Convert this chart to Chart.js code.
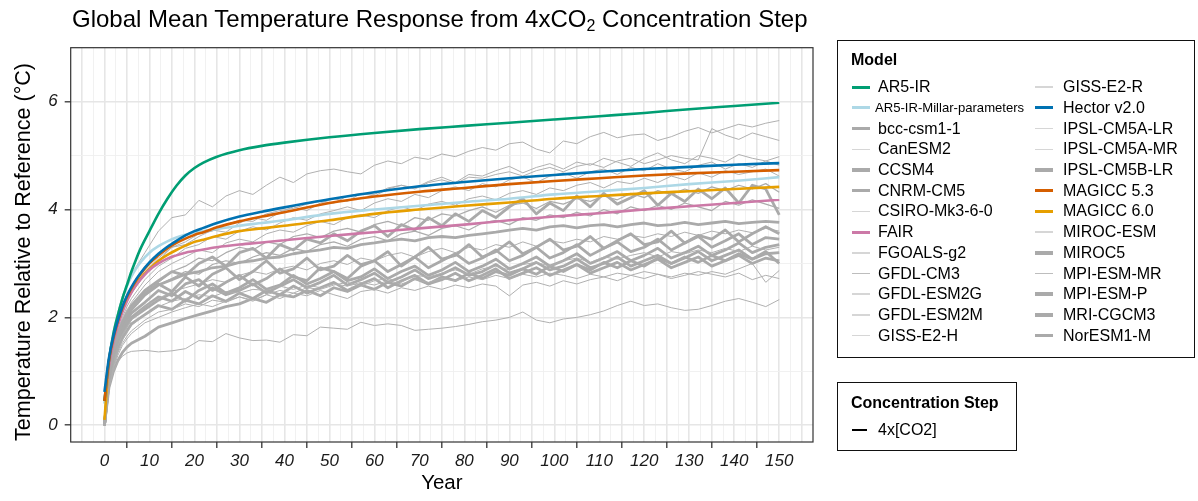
<!DOCTYPE html>
<html><head><meta charset="utf-8">
<script src="https://cdn.jsdelivr.net/npm/chart.js@4.4.1/dist/chart.umd.min.js"></script>
<style>
html,body{margin:0;padding:0;background:#fff;}
#wrap{position:relative;width:1198px;height:501px;font-family:"Liberation Sans",Arial,Helvetica,sans-serif;overflow:hidden;}
#c{position:absolute;left:0;top:0;}
.t{position:absolute;white-space:nowrap;color:#000;}
.box{position:absolute;border:1px solid #111;box-sizing:border-box;}
.key{position:absolute;}
.lt{position:absolute;white-space:nowrap;font-size:16px;line-height:20px;color:#000;}
</style></head><body>
<div id="wrap">
<canvas id="c" width="1198" height="501"></canvas>
<div class="t" style="left:72px;top:5px;font-size:24px;line-height:28px;">Global Mean Temperature Response from 4xCO<sub style="font-size:16px;vertical-align:-4px;line-height:0;">2</sub> Concentration Step</div>
<div class="t" style="left:-177.3px;top:240px;width:400px;height:24px;line-height:24px;font-size:21.5px;text-align:center;transform:rotate(-90deg);">Temperature Relative to Reference (°C)</div>
<div id="legend"></div>
</div>
<script>
// ---------- tick labels ----------
const X_TICK_LABELS = ['0','10','20','30','40','50','60','70','80','90','100','110','120','130','140','150'];
const Y_TICK_LABELS = ['0','2','4','6'];

// ---------- years ----------
const YEARS_SCM = [0,1,2,3,4,5,6,7,8,10,12,14,16,18,20,22,25,30,35,40,50,60,70,80,90,100,110,120,130,140,150];
const YEARS_CMIP = [0,1,2,3,4,5,6,
  9,12,15,18,21,24,27,30,
  33,36,39,42,45,48,51,54,
  57,60,63,66,69,72,75,78,
  81,84,87,90,93,96,99,102,
  105,108,111,114,117,120,123,126,
  129,132,135,138,141,144,147,150];

// ---------- simple climate models ----------
const AR5_IR        = [0.45,1.2,1.7,2.05,2.35,2.6,2.85,3.07,3.27,3.6,3.92,4.2,4.44,4.63,4.77,4.87,4.98,5.1,5.18,5.24,5.34,5.42,5.49,5.55,5.61,5.67,5.73,5.79,5.86,5.92,5.98];
const AR5_IR_MILLAR = [0.4,1.2,1.7,2.05,2.35,2.58,2.76,2.9,3.02,3.2,3.32,3.41,3.48,3.53,3.57,3.6,3.64,3.7,3.75,3.8,3.92,4.0,4.07,4.14,4.2,4.28,4.34,4.4,4.47,4.53,4.6];
const HECTOR        = [0.62,1.25,1.65,1.95,2.2,2.4,2.56,2.7,2.82,3.02,3.18,3.31,3.42,3.52,3.6,3.66,3.75,3.87,3.96,4.04,4.19,4.32,4.43,4.51,4.58,4.64,4.7,4.75,4.79,4.83,4.86];
const MAGICC53      = [0.45,1.2,1.62,1.93,2.18,2.38,2.54,2.68,2.8,3.0,3.15,3.28,3.38,3.46,3.53,3.58,3.67,3.78,3.87,3.95,4.12,4.24,4.33,4.4,4.47,4.53,4.58,4.63,4.67,4.7,4.73];
const MAGICC60      = [0.1,1.15,1.6,1.92,2.15,2.33,2.48,2.61,2.72,2.9,3.05,3.16,3.25,3.33,3.4,3.44,3.51,3.6,3.65,3.7,3.8,3.92,4.0,4.07,4.13,4.2,4.25,4.3,4.34,4.38,4.42];
const FAIR          = [0.45,1.1,1.55,1.85,2.1,2.3,2.46,2.59,2.7,2.88,3.0,3.09,3.15,3.2,3.23,3.26,3.3,3.35,3.39,3.43,3.51,3.58,3.65,3.72,3.8,3.87,3.93,4.0,4.06,4.12,4.18];

// ---------- CMIP5 models ----------
const MIROC_ESM = [0,1.15,1.7,2.1,2.4,2.6,2.8,
  3.2,3.6,3.85,3.9,4.17,4.05,4.25,4.35,
  4.28,4.45,4.6,4.5,4.66,4.72,4.75,4.7,
  4.66,4.82,4.9,4.85,4.97,4.93,5.03,4.98,
  5.08,5.15,5.1,5.22,5.25,5.12,5.05,5.27,
  5.22,5.35,5.43,5.33,5.38,5.4,5.28,5.35,
  5.45,5.52,5.42,5.5,5.58,5.53,5.6,5.65];
const IPSL_CM5A_LR = [0,1.05,1.55,1.9,2.15,2.35,2.5,
  2.85,3.1,3.3,3.4,3.55,3.6,3.72,3.8,
  3.78,3.92,3.98,4.02,4.1,4.15,4.12,4.25,
  4.3,4.28,4.4,4.45,4.38,4.5,4.55,4.48,
  4.6,4.58,4.65,4.7,4.62,4.72,4.78,4.7,
  4.8,4.85,4.78,4.9,4.95,4.85,4.92,5.0,
  4.95,4.92,5.5,5.38,5.3,5.42,5.35,5.28];
const CANESM2 = [0,1.0,1.5,1.85,2.1,2.3,2.45,
  2.8,3.05,3.3,3.35,3.5,3.62,3.58,3.75,
  3.85,3.8,3.95,4.05,3.98,4.12,4.2,4.15,
  4.3,4.25,4.38,4.45,4.4,4.52,4.6,4.5,
  4.65,4.62,4.72,4.8,4.68,4.78,4.85,4.75,
  4.88,4.82,4.95,4.88,4.8,4.95,5.05,4.92,
  4.85,5.0,4.95,4.88,5.02,4.95,4.9,4.98];
const CSIRO_MK3 = [0,0.95,1.45,1.75,2.0,2.2,2.35,
  2.7,2.95,3.1,3.28,3.35,3.5,3.45,3.6,
  3.68,3.62,3.75,3.85,3.8,3.92,3.98,4.05,
  3.98,4.12,4.2,4.15,4.28,4.22,4.35,4.42,
  4.35,4.48,4.42,4.55,4.6,4.5,4.62,4.68,
  4.58,4.7,4.75,4.65,4.78,4.72,4.85,4.75,
  4.7,4.82,4.88,4.75,4.85,4.78,4.9,4.82];
const IPSL_CM5A_MR = [0,0.95,1.4,1.7,1.95,2.12,2.28,
  2.6,2.85,3.0,3.12,3.25,3.2,3.38,3.45,
  3.4,3.55,3.62,3.58,3.7,3.78,3.72,3.85,
  3.9,3.85,3.98,4.05,3.98,4.1,4.15,4.08,
  4.2,4.25,4.18,4.3,4.35,4.28,4.4,4.35,
  4.45,4.5,4.4,4.52,4.48,4.58,4.5,4.62,
  4.55,4.68,4.6,4.72,4.65,4.7,4.75,4.62];
const GFDL_CM3 = [0,0.85,1.3,1.6,1.85,2.0,2.15,
  2.45,2.65,2.85,2.95,3.1,3.05,3.2,3.3,
  3.25,3.4,3.35,3.5,3.55,3.48,3.6,3.65,
  3.58,3.72,3.78,3.7,3.85,3.8,3.92,3.88,
  3.98,4.05,3.95,4.08,4.12,4.02,4.15,4.1,
  4.2,4.15,4.25,4.18,4.3,4.22,4.35,4.28,
  4.38,4.3,4.42,4.35,4.45,4.38,4.48,4.32];
const MPI_ESM_MR = [0,0.9,1.35,1.65,1.85,2.0,2.12,
  2.4,2.6,2.72,2.85,2.8,2.98,3.05,3.0,
  3.12,3.2,3.15,3.28,3.22,3.35,3.4,3.32,
  3.45,3.5,3.42,3.55,3.6,3.52,3.65,3.7,
  3.62,3.75,3.8,3.72,3.85,3.8,3.9,3.85,
  3.95,3.88,4.0,3.92,4.05,3.98,4.08,4.0,
  4.12,4.05,3.98,4.15,4.08,4.18,4.1,4.02];
const FGOALS_G2 = [0,0.8,1.2,1.48,1.68,1.82,1.95,
  2.2,2.35,2.48,2.55,2.62,2.7,2.65,2.78,
  2.85,2.8,2.9,2.95,2.88,3.0,3.05,2.98,
  3.1,3.05,3.15,3.2,3.12,3.22,3.28,3.2,
  3.3,3.25,3.35,3.3,3.4,3.32,3.42,3.38,
  3.45,3.4,3.5,3.45,3.52,3.48,3.55,3.5,
  3.58,3.52,3.6,3.55,3.62,3.57,3.65,3.6];
const GFDL_ESM2M = [0,0.75,1.1,1.35,1.52,1.65,1.75,
  1.95,2.1,2.15,2.25,2.2,2.32,2.28,2.38,
  2.3,2.42,2.35,2.45,2.4,2.5,2.42,2.35,
  2.48,2.52,2.45,2.55,2.5,2.58,2.52,2.6,
  2.55,2.62,2.58,2.4,2.6,2.65,2.58,2.68,
  2.62,2.7,2.75,2.68,2.78,2.72,2.8,2.75,
  2.82,2.78,2.85,2.8,2.9,3.0,2.65,2.87];
const GFDL_ESM2G = [0,0.8,1.15,1.4,1.58,1.72,1.85,
  2.05,2.2,2.3,2.35,2.42,2.38,2.48,2.45,
  2.52,2.5,2.58,2.52,2.6,2.55,2.62,2.58,
  2.65,2.6,2.68,2.62,2.7,2.65,2.72,2.68,
  2.75,2.7,2.78,2.72,2.8,2.75,2.82,2.78,
  2.72,2.8,2.75,2.82,2.78,2.85,2.8,2.72,
  2.78,2.85,2.8,2.75,2.82,2.7,2.78,2.72];
const GISS_E2_R = [0,0.7,1.0,1.18,1.28,1.34,1.37,
  1.39,1.36,1.38,1.42,1.57,1.55,1.7,1.62,
  1.57,1.58,1.54,1.68,1.66,1.82,1.8,1.78,
  1.91,1.85,1.88,1.85,1.76,1.78,1.8,1.83,
  1.87,1.92,1.95,2.0,2.1,1.95,1.9,1.97,
  2.0,2.05,2.12,2.22,2.3,2.22,2.25,2.18,
  2.13,2.15,2.22,2.3,2.35,2.28,2.2,2.33];
const GISS_E2_H = [0,0.7,1.05,1.3,1.48,1.6,1.7,
  1.9,2.0,2.1,2.18,2.25,2.2,2.3,2.38,
  2.32,2.42,2.5,2.45,2.55,2.52,2.6,2.65,
  2.58,2.68,2.72,2.65,2.78,2.75,2.82,2.88,
  2.8,2.9,2.95,2.88,2.98,3.02,2.95,3.05,
  3.1,3.02,3.12,3.08,3.15,3.2,3.12,3.22,
  3.18,3.25,3.2,3.28,3.22,3.32,3.25,3.3];
const MPI_ESM_P = [0,0.95,1.4,1.7,1.92,2.1,2.22,
  2.5,2.68,2.85,2.78,3.0,3.12,2.95,3.2,
  3.28,3.1,3.35,3.25,3.45,3.38,3.55,3.42,
  3.6,3.7,3.5,3.72,3.62,3.85,3.7,3.92,
  3.78,3.98,3.85,4.05,4.2,3.92,4.12,3.98,
  4.25,4.05,4.3,4.1,4.22,4.35,4.08,4.3,
  4.15,4.38,4.2,4.4,4.12,4.45,4.38,3.9];
const CNRM_CM5 = [0,0.9,1.35,1.65,1.85,2.02,2.15,
  2.42,2.6,2.7,2.8,2.85,2.92,2.95,3.02,
  3.05,3.1,3.12,3.18,3.22,3.25,3.3,3.28,
  3.35,3.38,3.42,3.45,3.42,3.48,3.5,3.48,
  3.52,3.55,3.58,3.62,3.65,3.62,3.68,3.7,
  3.66,3.7,3.72,3.68,3.72,3.75,3.7,3.72,
  3.76,3.72,3.75,3.78,3.74,3.76,3.78,3.76];
const BCC_CSM1_1 = [0,0.95,1.38,1.68,1.9,2.05,2.18,
  2.45,2.62,2.48,2.75,2.58,2.8,2.92,2.7,
  2.85,3.05,2.82,2.9,3.1,2.88,2.95,3.15,
  2.98,3.05,3.22,2.95,3.12,3.3,3.08,3.15,
  3.35,3.12,3.22,3.4,3.18,3.3,3.45,3.25,
  3.32,3.5,3.28,3.42,3.55,3.35,3.4,3.6,
  3.38,3.52,3.45,3.62,3.4,3.55,3.68,3.55];
const CCSM4 = [0,0.85,1.28,1.58,1.8,1.95,2.08,
  2.28,2.5,2.4,2.62,2.7,2.5,2.65,2.78,
  2.6,2.72,2.9,2.75,2.68,2.92,2.85,2.72,
  2.95,3.05,2.85,2.98,3.12,2.92,3.05,3.18,
  3.0,3.1,3.25,3.05,3.15,3.3,3.1,3.2,
  3.35,3.15,3.28,3.4,3.22,3.3,3.45,3.25,
  3.38,3.5,3.3,3.42,3.55,3.35,3.48,3.45];
const NORESM1_M = [0,0.8,1.2,1.5,1.7,1.85,1.98,
  2.15,2.32,2.45,2.3,2.5,2.62,2.45,2.55,
  2.7,2.52,2.6,2.78,2.62,2.72,2.85,2.68,
  2.75,2.9,2.72,2.85,2.95,2.78,2.88,3.02,
  2.85,2.95,3.08,2.9,3.0,3.12,2.95,3.05,
  3.18,3.0,3.1,3.22,3.05,3.15,3.28,3.1,
  3.2,3.32,3.15,3.25,3.38,3.2,3.3,3.35];
const MIROC5 = [0,0.85,1.25,1.52,1.72,1.88,2.0,
  2.2,2.38,2.3,2.48,2.35,2.55,2.42,2.5,
  2.62,2.45,2.58,2.7,2.55,2.65,2.78,2.6,
  2.7,2.82,2.65,2.75,2.88,2.72,2.8,2.92,
  2.78,2.85,2.98,2.82,2.9,3.02,2.88,2.95,
  3.08,2.92,3.0,3.12,2.95,3.05,3.15,3.0,
  3.1,3.22,3.05,3.15,3.25,3.08,3.18,3.2];
const MRI_CGCM3 = [0,0.78,1.15,1.42,1.62,1.75,1.88,
  2.05,2.22,2.15,2.32,2.25,2.4,2.3,2.45,
  2.35,2.5,2.42,2.58,2.45,2.55,2.65,2.5,
  2.62,2.72,2.55,2.68,2.78,2.62,2.7,2.82,
  2.68,2.78,2.9,2.72,2.82,2.92,2.78,2.88,
  2.98,2.82,2.92,3.02,2.88,2.98,3.08,2.92,
  3.02,3.12,2.95,3.05,3.15,3.0,3.1,3.05];
const IPSL_CM5B_LR = [0,0.7,1.0,1.2,1.35,1.45,1.52,
  1.65,1.82,1.9,1.98,2.05,2.12,2.2,2.25,
  2.35,2.28,2.42,2.38,2.5,2.4,2.55,2.48,
  2.6,2.52,2.65,2.58,2.72,2.62,2.75,2.68,
  2.82,2.72,2.85,2.78,2.9,2.8,2.95,2.85,
  2.98,2.88,3.02,2.92,3.05,2.95,3.1,3.0,
  3.12,3.02,3.15,3.05,3.18,3.08,3.22,3.0];

// ---------- model list (legend order) ----------
const MODEL_NAMES = ['AR5-IR','AR5-IR-Millar-parameters','bcc-csm1-1','CanESM2','CCSM4','CNRM-CM5','CSIRO-Mk3-6-0','FAIR','FGOALS-g2','GFDL-CM3','GFDL-ESM2G','GFDL-ESM2M','GISS-E2-H',
  'GISS-E2-R','Hector v2.0','IPSL-CM5A-LR','IPSL-CM5A-MR','IPSL-CM5B-LR','MAGICC 5.3','MAGICC 6.0','MIROC-ESM','MIROC5','MPI-ESM-MR','MPI-ESM-P','MRI-CGCM3','NorESM1-M'];
const MODEL_VALUES = {
  'AR5-IR':AR5_IR,'AR5-IR-Millar-parameters':AR5_IR_MILLAR,'FAIR':FAIR,'Hector v2.0':HECTOR,'MAGICC 5.3':MAGICC53,'MAGICC 6.0':MAGICC60,
  'bcc-csm1-1':BCC_CSM1_1,'CanESM2':CANESM2,'CCSM4':CCSM4,'CNRM-CM5':CNRM_CM5,'CSIRO-Mk3-6-0':CSIRO_MK3,'FGOALS-g2':FGOALS_G2,
  'GFDL-CM3':GFDL_CM3,'GFDL-ESM2G':GFDL_ESM2G,'GFDL-ESM2M':GFDL_ESM2M,'GISS-E2-H':GISS_E2_H,'GISS-E2-R':GISS_E2_R,
  'IPSL-CM5A-LR':IPSL_CM5A_LR,'IPSL-CM5A-MR':IPSL_CM5A_MR,'IPSL-CM5B-LR':IPSL_CM5B_LR,'MIROC-ESM':MIROC_ESM,'MIROC5':MIROC5,
  'MPI-ESM-MR':MPI_ESM_MR,'MPI-ESM-P':MPI_ESM_P,'MRI-CGCM3':MRI_CGCM3,'NorESM1-M':NORESM1_M
};
const SCM_COLORS = {'AR5-IR':'#009E73','AR5-IR-Millar-parameters':'#ADD8E6','FAIR':'#CC79A7','Hector v2.0':'#0072B2','MAGICC 5.3':'#D55E00','MAGICC 6.0':'#E69F00'};
const THICK = ['bcc-csm1-1','CCSM4','CNRM-CM5','IPSL-CM5B-LR','MIROC5','MPI-ESM-P','MRI-CGCM3','NorESM1-M'];
const MEDIUM = ['GFDL-CM3','MPI-ESM-MR'];

// ---------- styles ----------
const FONT = '"Liberation Sans", Arial, Helvetica, sans-serif';
function style(name){
  if (SCM_COLORS[name]) return {plotColor:SCM_COLORS[name], plotWidth:2.6, keyColor:SCM_COLORS[name], keyWidth:3};
  if (THICK.includes(name)) return {plotColor:'#aaaaaa', plotWidth:2.8, keyColor:'#aaaaaa', keyWidth:3.5};
  if (MEDIUM.includes(name)) return {plotColor:'#acacac', plotWidth:1.2, keyColor:'#bdbdbd', keyWidth:1.6};
  return {plotColor:'#b0b0b0', plotWidth:1, keyColor:'#d6d6d6', keyWidth:1.5};
}
function pts(xs, ys){ const n=Math.min(xs.length, ys.length); const o=[]; for(let i=0;i<n;i++) o.push({x:xs[i], y:ys[i]}); return o; }

const datasets = [];
const scmOrder = ['Hector v2.0','MAGICC 5.3','AR5-IR','FAIR','MAGICC 6.0','AR5-IR-Millar-parameters'];
scmOrder.forEach(n=>{ const s=style(n); datasets.push({label:n, data:pts(YEARS_SCM, MODEL_VALUES[n]), borderColor:s.plotColor, borderWidth:s.plotWidth, pointRadius:0, cubicInterpolationMode:'monotone', fill:false}); });
MODEL_NAMES.filter(n=>!SCM_COLORS[n]).forEach(n=>{ const s=style(n); datasets.push({label:n, data:pts(YEARS_CMIP, MODEL_VALUES[n]), borderColor:s.plotColor, borderWidth:s.plotWidth, pointRadius:0, tension:0, borderJoinStyle:'round', fill:false}); });

// grid positions
const X_GRID = []; for (let v=-5; v<=155; v+=2.5) X_GRID.push(v);
const Y_GRID = [0,1,2,3,4,5,6,7];

const panelBorder = {id:'panelBorder', afterDraw(chart){ const {ctx, chartArea:a} = chart; ctx.save(); ctx.strokeStyle='#333'; ctx.lineWidth=1.2; ctx.strokeRect(a.left, a.top, a.right-a.left, a.bottom-a.top); ctx.restore(); }};

new Chart(document.getElementById('c'), {
  type:'line',
  data:{datasets},
  options:{
    responsive:false, animation:false, devicePixelRatio:1,
    layout:{padding:{left:0, top:47.7, right:385, bottom:0}},
    plugins:{legend:{display:false}, tooltip:{enabled:false}, title:{display:false}},
    scales:{
      x:{type:'linear', min:-7.5, max:157.5,
        afterBuildTicks(s){ s.ticks = X_GRID.map(v=>({value:v})); },
        afterFit(s){ s.height = 59; },
        border:{display:false},
        grid:{
          color:(c)=> (c.tick && c.tick.value%5===0) ? '#e6e6e6' : '#efefef',
          lineWidth:(c)=> (c.tick && c.tick.value%5===0) ? 1.6 : 0.9,
          drawTicks:true, tickLength:6, tickWidth:1.3,
          tickColor:(c)=> (c.tick && Math.abs(c.tick.value%10)===5 && c.tick.value>0 && c.tick.value<150) ? '#333' : 'rgba(0,0,0,0)'
        },
        ticks:{autoSkip:false, maxRotation:0, padding:3, color:'#1a1a1a', font:{family:FONT, size:17, style:'italic'},
          callback:(v)=> X_TICK_LABELS.includes(String(v)) ? String(v) : ''},
        title:{display:true, text:'Year', color:'#000', font:{family:FONT, size:20.5}, padding:{top:0, bottom:5.3}}
      },
      y:{type:'linear', min:-0.31, max:7.0,
        afterBuildTicks(s){ s.ticks = Y_GRID.map(v=>({value:v})); },
        afterFit(s){ s.width = 70.7; },
        border:{display:false},
        grid:{
          color:(c)=> (c.tick && c.tick.value%2===0) ? '#e6e6e6' : '#efefef',
          lineWidth:(c)=> (c.tick && c.tick.value%2===0) ? 1.6 : 0.9,
          drawTicks:true, tickLength:6, tickWidth:1.3,
          tickColor:(c)=> (c.tick && c.tick.value%2===0 && c.tick.value<7) ? '#333' : 'rgba(0,0,0,0)'
        },
        ticks:{autoSkip:false, padding:7, color:'#1a1a1a', font:{family:FONT, size:17, style:'italic'},
          callback:(v)=> Y_TICK_LABELS.includes(String(v)) ? String(v) : ''},
        title:{display:false}
      }
    }
  },
  plugins:[panelBorder]
});

// ---------- legend (HTML text) ----------
const L = document.getElementById('legend');
function add(html){ L.insertAdjacentHTML('beforeend', html); }
add('<div class="box" style="left:837px;top:40px;width:358px;height:318px;"></div>');
add('<div class="lt" style="left:851px;top:50px;font-weight:bold;">Model</div>');
MODEL_NAMES.forEach((n,i)=>{
  const col = i<13 ? 0 : 1, row = i%13;
  const cy = 87.2 + row*20.7;
  const kx = col===0 ? 852 : 1035, tx = col===0 ? 878 : 1063;
  const s = style(n);
  add(`<div class="key" style="left:${kx}px;top:${cy - s.keyWidth/2}px;width:18px;height:${s.keyWidth}px;background:${s.keyColor};"></div>`);
  const small = n==='AR5-IR-Millar-parameters';
  add(`<div class="lt" style="left:${small?875:tx}px;top:${cy-10}px;${small?'font-size:13.1px;':''}">${n}</div>`);
});
add('<div class="box" style="left:837px;top:382px;width:180px;height:69px;"></div>');
add('<div class="lt" style="left:851px;top:393px;font-weight:bold;">Concentration Step</div>');
add('<div class="key" style="left:852px;top:429.3px;width:15px;height:1.5px;background:#000;"></div>');
add('<div class="lt" style="left:878px;top:420px;">4x[CO2]</div>');
</script>
</body></html>
